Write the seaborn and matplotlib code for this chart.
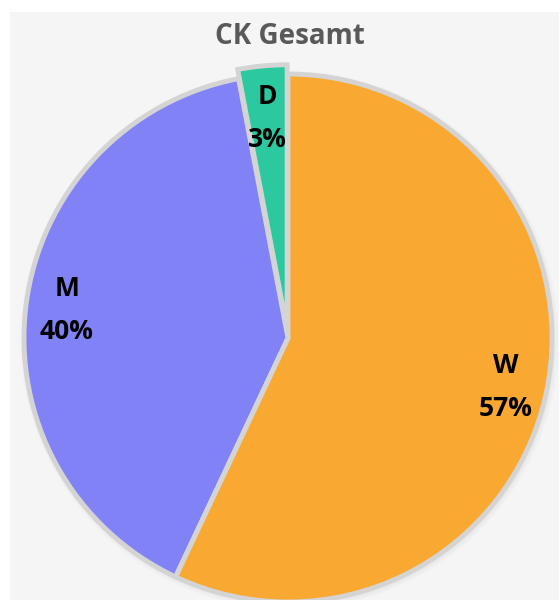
# Kreisdiagramm CK Gesamt
import matplotlib
matplotlib.use('Agg')
import matplotlib.pyplot as plt
from matplotlib.patches import Circle
import seaborn as sns

# Daten
kategorien = ['W', 'M', 'D']
anteile = [57, 40, 3]
farben = ['#F9A832', '#8282F7', '#2CC9A0']
explode = [0, 0, 0.035]
titel = 'CK Gesamt'

sns.set_theme(style='white')
plt.rcParams['font.family'] = ['Open Sans', 'DejaVu Sans']

fig = plt.figure(figsize=(5.59, 6), dpi=100, facecolor='white')

# hellgrauer Hintergrund
bg = fig.add_axes([10 / 559, 0, 1 - 10 / 559, 1 - 12 / 600])
bg.set_facecolor('#F5F5F5')
bg.set_xticks([])
bg.set_yticks([])
for s in bg.spines.values():
    s.set_visible(False)

ax = fig.add_axes([0, 0, 1, 1])
ax.set_facecolor('none')

etiketten = [f'{k}\n{v}%' for k, v in zip(kategorien, anteile)]

# Flaechen ohne Rand
wedges, texts = ax.pie(
    anteile,
    labels=etiketten,
    colors=farben,
    explode=explode,
    startangle=90,
    counterclock=False,
    labeldistance=0.845,
    wedgeprops={'linewidth': 0},
    textprops={'fontsize': 19, 'fontweight': 'bold', 'color': 'black'},
)
# graue Trennlinien (Aussenrand weggeschnitten)
rand, _ = ax.pie(
    anteile,
    explode=explode,
    startangle=90,
    counterclock=False,
    wedgeprops={'facecolor': 'none', 'edgecolor': '#D4D4D4', 'linewidth': 3.5},
)
for w in rand:
    w.set_clip_path(Circle(w.center, w.r - 0.008, transform=ax.transData))

# weicher Schatten
c0 = wedges[0].center
for i in range(5):
    ax.add_patch(Circle((c0[0] + 0.006, c0[1] - 0.008), 1 + i * 0.005,
                        facecolor='#A0A0A0', edgecolor='none', alpha=0.03, zorder=0))

for t in texts:
    t.set_ha('center')
    t.set_va('center')
    t.set_linespacing(1.75)
tx, ty = texts[2].get_position()
texts[2].set_position((tx * 0.95, ty * 0.95))

ax.set_xlim(-288 / 264, 271 / 264)
ax.set_ylim(-262 / 264, 338 / 264)
ax.set_aspect('auto')
ax.axis('off')

fig.text(290 / 559, 1 - 37 / 600, titel, ha='center', va='center',
         fontsize=20, fontweight='bold', color='#595959')

plt.savefig('out.png', dpi=100, facecolor=fig.get_facecolor())
